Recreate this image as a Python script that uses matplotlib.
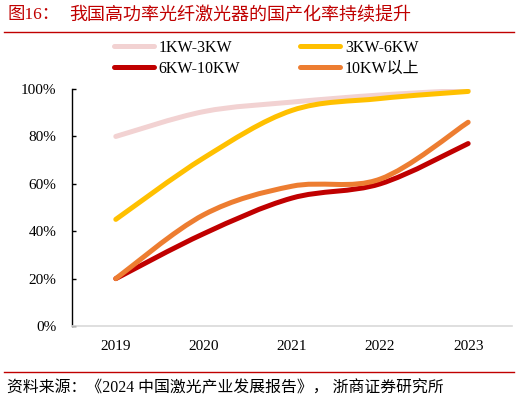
import matplotlib
matplotlib.use("Agg")
import matplotlib.pyplot as plt
from matplotlib.path import Path
from matplotlib.patches import PathPatch
from matplotlib.lines import Line2D
from matplotlib.ticker import PercentFormatter
import numpy as np

years = ["2019", "2020", "2021", "2022", "2023"]
s_1_3 = [80, 90.5, 94.5, 97.5, 99.5]
s_3_6 = [45, 71, 91, 96, 99]
s_6_10 = [20, 39, 54, 60, 77]
s_10p = [20, 47, 59, 62, 86]
names = ["1KW-3KW", "3KW-6KW", "6KW-10KW", "10KW以上"]
colors = ["#F2D2D2", "#FFC000", "#C00000", "#ED7D31"]
yticks = [0, 20, 40, 60, 80, 100]

title_num = "图16："
title = "我国高功率光纤激光器的国产化率持续提升"
source = "资料来源：《2024 中国激光产业发展报告》， 浙商证券研究所"

SERIF_CJK = ["Liberation Serif", "Noto Sans CJK SC"]
RED = "#C00000"

fig = plt.figure(figsize=(5.2, 4.03), dpi=100)
ax = fig.add_axes([0.138, 0.191, 0.847, 0.588])

def smooth_path(xs, ys):
    pts = np.column_stack([xs, ys]).astype(float)
    n = len(pts)
    verts = [pts[0]]
    codes = [Path.MOVETO]
    for i in range(n - 1):
        p0 = pts[i - 1] if i > 0 else pts[i]
        p1 = pts[i]
        p2 = pts[i + 1]
        p3 = pts[i + 2] if i + 2 < n else pts[i + 1]
        c1 = p1 + (p2 - p0) / 6.0
        c2 = p2 - (p3 - p1) / 6.0
        verts += [c1, c2, p2]
        codes += [Path.CURVE4] * 3
    return Path(verts, codes)

x = np.arange(len(years))
series = [s_1_3, s_3_6, s_6_10, s_10p]
handles = []
for vals, c, nm in zip(series, colors, names):
    p = smooth_path(x, vals)
    patch = PathPatch(p, fill=False, edgecolor=c, lw=3.6, capstyle="round", joinstyle="round")
    ax.add_patch(patch)
    handles.append(Line2D([], [], color=c, lw=3.6, solid_capstyle="round", label=nm))

ax.set_xlim(-0.5, len(years) - 0.5)
ax.set_ylim(0, 100)
ax.set_xticks(x)
ax.set_xticklabels(years, family="Liberation Serif", fontsize=11)
ax.set_yticks(yticks)
ax.yaxis.set_major_formatter(PercentFormatter(decimals=0))
for lab in ax.get_yticklabels():
    lab.set_family("Liberation Serif")
    lab.set_fontsize(11)
ax.tick_params(axis="x", length=0, pad=10)
ax.tick_params(axis="y", length=3, width=1, direction="in", pad=11)
for s in ["top", "right"]:
    ax.spines[s].set_visible(False)
ax.spines["left"].set_color("black")
ax.spines["left"].set_linewidth(1)
ax.spines["bottom"].set_color("#D9D9D9")
ax.spines["bottom"].set_linewidth(1.2)

order = [0, 2, 1, 3]
leg = fig.legend([handles[i] for i in order], [names[i] for i in order], ncol=2,
                 loc="center", bbox_to_anchor=(0.513, 0.855), frameon=False,
                 handlelength=2.5, handletextpad=0.3, columnspacing=3.75,
                 labelspacing=0.3, prop={"family": SERIF_CJK, "size": 11.5})

fig.text(0.014, 0.962, title_num, color=RED, fontsize=12.5, family=SERIF_CJK, va="center", ha="left")
fig.text(0.133, 0.962, title, color=RED, fontsize=13, family=SERIF_CJK, va="center", ha="left")
fig.add_artist(Line2D([0.008, 0.988], [0.921, 0.921], color=RED, lw=1, transform=fig.transFigure))
fig.add_artist(Line2D([0.008, 0.988], [0.077, 0.077], color=RED, lw=1, transform=fig.transFigure))
fig.text(0.014, 0.037, source, color="black", fontsize=11.4, family=SERIF_CJK, va="center", ha="left")

fig.savefig("out.png", dpi=100)
